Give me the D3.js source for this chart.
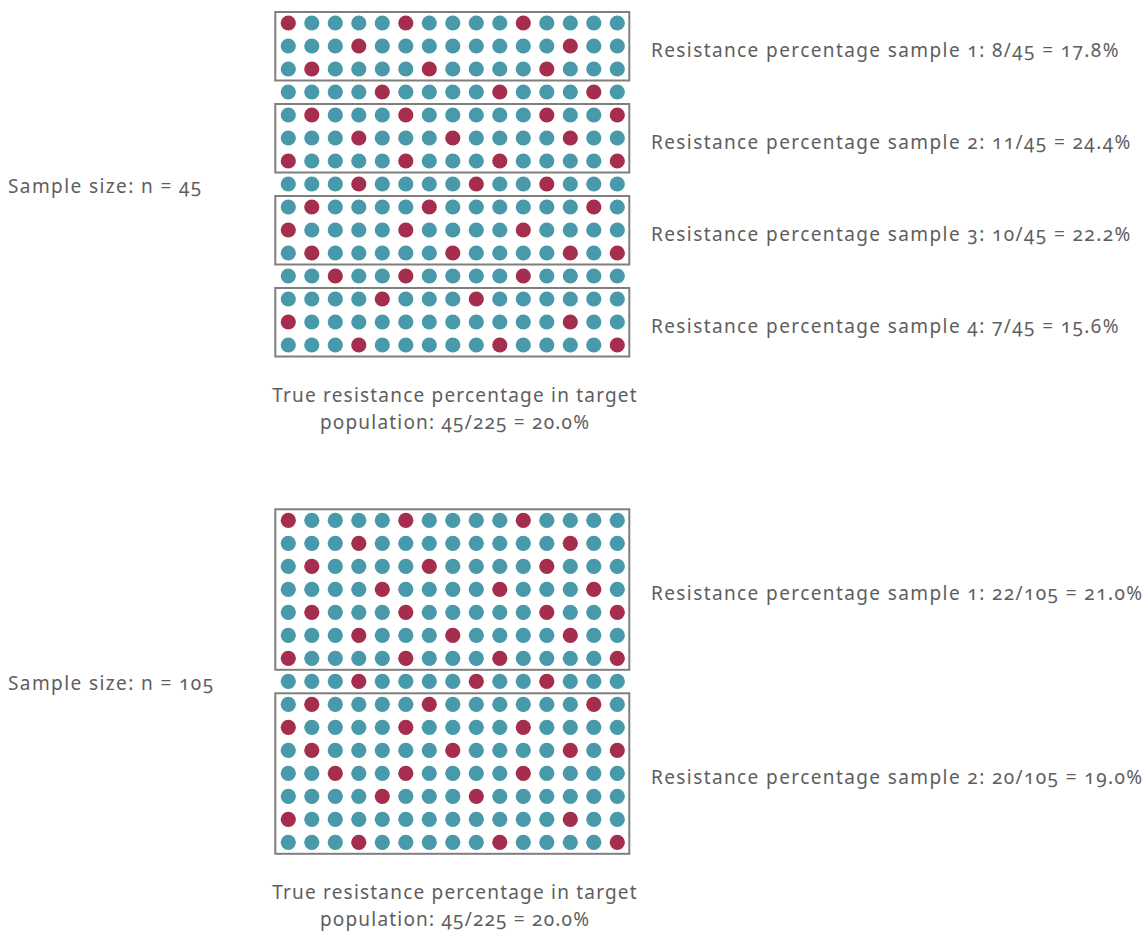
<!DOCTYPE html>
<html>
<head>
<meta charset="utf-8">
<script src="https://cdn.jsdelivr.net/npm/d3@7"></script>
<style>
  body { margin: 0; background: #fff; }
  svg text {
    font-family: "Noto Sans", "Open Sans", sans-serif;
    font-size: 19px;
    letter-spacing: 1.4px;
    fill: #5e5e5e;
    font-variant-numeric: oldstyle-nums;
    font-feature-settings: "onum" 1;
  }
</style>
</head>
<body>
<div id="chart"></div>
<script>
// red (resistant) dot columns in each of the 15 rows of the target population
var redCols = [
  [0, 5, 10],
  [3, 12],
  [1, 6, 11],
  [4, 9, 13],
  [1, 5, 11, 14],
  [3, 7, 12],
  [0, 5, 9, 14],
  [3, 8, 11],
  [1, 6, 13],
  [0, 5, 10],
  [1, 7, 12, 14],
  [2, 5, 10],
  [4, 8],
  [0, 12],
  [3, 9, 14]
];
var nCols = 15;

// samples drawn from the rows: [first row, last row]
var samplesSmall = [[0, 2], [4, 6], [8, 10], [12, 14]];
var samplesLarge = [[0, 6], [8, 14]];
var sizeLabels = ["Sample size: n = 45", "Sample size: n = 105"];

var width = 1148, height = 942;
var cRed = "#a52e4e", cTeal = "#4899a9";

var svg = d3.select("#chart").append("svg")
    .attr("width", width)
    .attr("height", height);

var dots = [];
redCols.forEach(function(cols, r) {
    for (var c = 0; c < nCols; c++) {
        dots.push({row: r, col: c, red: cols.indexOf(c) >= 0});
    }
});
var totalRed = dots.filter(d => d.red).length;

var x = d3.scaleLinear().domain([0, nCols - 1]).range([288.3, 617.3]);

function pct(a, b) { return (100 * a / b).toFixed(1) + "%"; }

function drawPanel(top, samples, sizeLabel) {
    var y = d3.scaleLinear().domain([0, redCols.length - 1]).range([top, top + 322]);
    var g = svg.append("g");

    g.selectAll("circle")
        .data(dots)
        .enter().append("circle")
        .attr("cx", d => x(d.col))
        .attr("cy", d => y(d.row))
        .attr("r", 7.6)
        .style("fill", d => d.red ? cRed : cTeal);

    g.selectAll("rect")
        .data(samples)
        .enter().append("rect")
        .attr("x", x(0) - 13)
        .attr("y", d => y(d[0]) - 11)
        .attr("width", x(nCols - 1) - x(0) + 25)
        .attr("height", d => y(d[1]) - y(d[0]) + 22.5)
        .style("fill", "none")
        .style("stroke", "#7f7f7f")
        .style("stroke-width", 2);

    g.selectAll("text.sample")
        .data(samples)
        .enter().append("text")
        .attr("class", "sample")
        .attr("x", 651)
        .attr("y", d => y((d[0] + d[1]) / 2) + 11)
        .text(function(d, i) {
            var n = (d[1] - d[0] + 1) * nCols;
            var k = dots.filter(p => p.red && p.row >= d[0] && p.row <= d[1]).length;
            return "Resistance percentage sample " + (i + 1) + ": " + k + "/" + n + " = " + pct(k, n);
        });

    g.append("text")
        .attr("x", 8)
        .attr("y", y(7) + 8.5)
        .text(sizeLabel);

    var cx = 455;
    g.append("text")
        .attr("x", cx)
        .attr("y", y(14) + 56.5)
        .attr("text-anchor", "middle")
        .style("letter-spacing", "1.2px")
        .text("True resistance percentage in target");
    g.append("text")
        .attr("x", cx)
        .attr("y", y(14) + 83.5)
        .attr("text-anchor", "middle")
        .style("letter-spacing", "1.2px")
        .text("population: " + totalRed + "/" + dots.length + " = " + pct(totalRed, dots.length));
}

drawPanel(23, samplesSmall, sizeLabels[0]);
drawPanel(520.3, samplesLarge, sizeLabels[1]);
</script>
</body>
</html>
